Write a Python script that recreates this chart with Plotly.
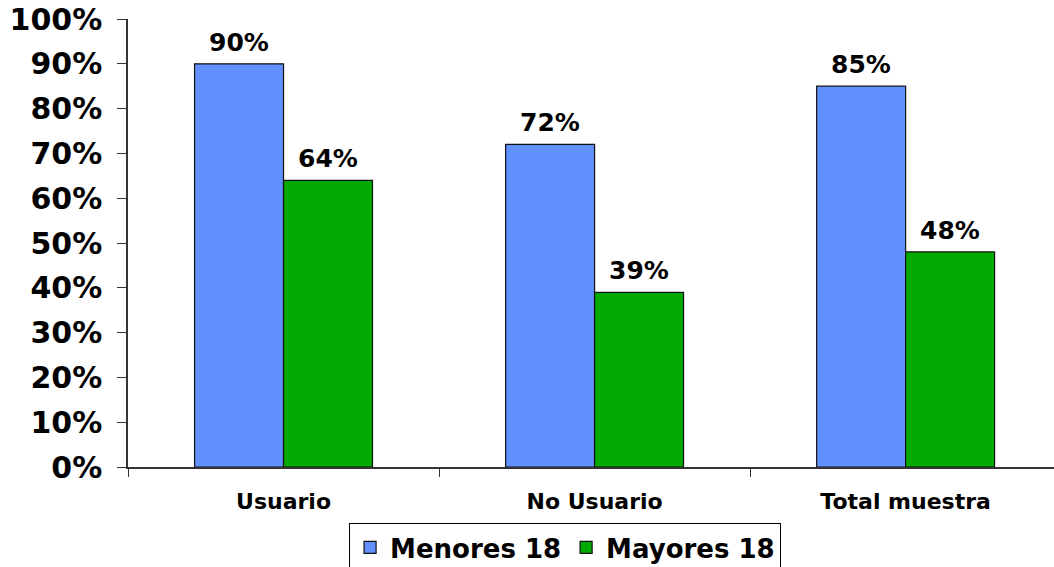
import plotly.graph_objects as go

categories = ["Usuario", "No Usuario", "Total muestra"]
menores_18 = [90, 72, 85]
mayores_18 = [64, 39, 48]
tick_values = [0, 10, 20, 30, 40, 50, 60, 70, 80, 90, 100]
tick_labels = [f"{v}%" for v in tick_values]

FONT = "DejaVu Sans"
BLUE = "#6190FF"
GREEN = "#00AA00"
series = [("Menores 18", menores_18, BLUE, -0.143), ("Mayores 18", mayores_18, GREEN, 0.143)]

fig = go.Figure()
for name, vals, color, _ in series:
    fig.add_trace(go.Bar(
        x=categories, y=vals, name=f"<b>{name}</b>",
        marker=dict(color=color, line=dict(color="#111111", width=1.2)),
        cliponaxis=False,
    ))

# value labels above each bar
for name, vals, color, dx in series:
    for i, v in enumerate(vals):
        fig.add_annotation(
            x=i + dx, y=v, xref="x", yref="y",
            text=f"<b>{v}%</b>", showarrow=False,
            yanchor="bottom", yshift=5,
            font=dict(family=FONT, size=25, color="black"),
        )

fig.update_layout(
    width=1054, height=567,
    margin=dict(l=128, r=0, t=19, b=100),
    paper_bgcolor="white", plot_bgcolor="white",
    barmode="group", bargap=0.428, bargroupgap=0,
    font=dict(family=FONT, color="black"),
    showlegend=True,
    legend=dict(
        orientation="h", x=0.472, xanchor="center",
        yref="container", y=(567 - 523) / 567, yanchor="top",
        bordercolor="black", borderwidth=1,
        font=dict(family=FONT, size=26, color="black"),
        itemwidth=30, traceorder="normal",
    ),
)
fig.update_xaxes(
    range=[-0.5, 2.477],
    showline=True, linecolor="#333333", linewidth=2,
    ticks="outside", ticklen=8, tickcolor="#333333",
    tickson="boundaries",
    tickfont=dict(family=FONT, size=22, color="black"),
    ticktext=[f"<b>{c}</b>" for c in categories], tickvals=categories,
    ticklabelstandoff=14,
    showgrid=False,
)
fig.update_yaxes(
    range=[0, 100],
    tickvals=tick_values, ticktext=[f"<b>{t}</b>" for t in tick_labels],
    showline=True, linecolor="#333333", linewidth=1.5,
    ticks="outside", ticklen=9, tickcolor="#333333",
    tickfont=dict(family=FONT, size=30, color="black"),
    ticklabelstandoff=9,
    showgrid=False, zeroline=False,
)

fig.write_html("out.html")
